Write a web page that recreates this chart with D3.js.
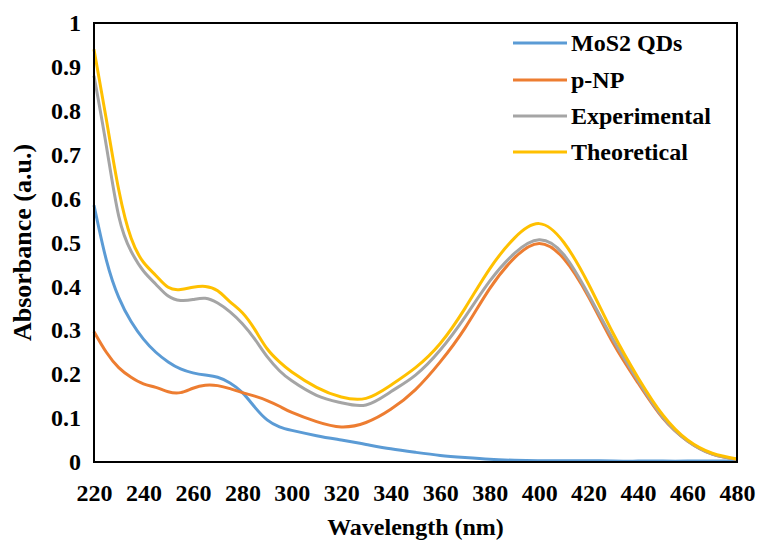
<!DOCTYPE html>
<html>
<head>
<meta charset="utf-8">
<script src="https://cdn.jsdelivr.net/npm/d3@7"></script>
<style>
  html, body { margin: 0; padding: 0; background: #fff; }
  svg { display: block; }
</style>
</head>
<body>
<svg id="chart" width="762" height="546"></svg>
<script>
// Wavelength grid (nm)
const wavelengths = [220,225,230,235,240,245,250,255,260,265,270,275,280,285,290,295,300,310,320,330,340,350,360,370,380,390,400,410,420,430,440,450,460,470,480];

// Absorbance spectra (a.u.)
const mos2QDs = [0.585,0.46,0.375,0.32,0.28,0.25,0.228,0.212,0.203,0.198,0.193,0.18,0.158,0.125,0.096,0.08,0.072,0.06,0.05,0.04,0.03,0.022,0.015,0.01,0.006,0.004,0.003,0.003,0.003,0.002,0.002,0.002,0.002,0.002,0.002];
const pNP = [0.297,0.25,0.215,0.193,0.178,0.17,0.16,0.158,0.168,0.175,0.174,0.167,0.158,0.15,0.14,0.127,0.113,0.092,0.08,0.09,0.12,0.165,0.228,0.305,0.395,0.465,0.498,0.463,0.376,0.27,0.18,0.1,0.048,0.018,0.006];
const experimental = [0.88,0.72,0.56,0.48,0.435,0.405,0.378,0.368,0.37,0.373,0.362,0.342,0.315,0.28,0.24,0.208,0.185,0.152,0.135,0.13,0.16,0.198,0.255,0.33,0.412,0.475,0.506,0.472,0.381,0.278,0.185,0.102,0.048,0.018,0.006];
const theoretical = [0.94,0.78,0.62,0.51,0.455,0.425,0.398,0.393,0.398,0.4,0.39,0.365,0.34,0.302,0.258,0.228,0.205,0.17,0.148,0.145,0.175,0.215,0.27,0.35,0.44,0.51,0.543,0.5,0.405,0.292,0.192,0.107,0.05,0.02,0.007];

const seriesNames = ["MoS2 QDs", "p-NP", "Experimental", "Theoretical"];
const seriesValues = [mos2QDs, pNP, experimental, theoretical];
const seriesColors = ["#5B9BD5", "#ED7D31", "#A5A5A5", "#FFC000"];

const xTicks = [220,240,260,280,300,320,340,360,380,400,420,440,460,480];
const yTicks = [0,0.1,0.2,0.3,0.4,0.5,0.6,0.7,0.8,0.9,1];

const FONT = "'Liberation Serif', 'Times New Roman', Times, serif";
const plot = { left: 94, top: 23, right: 737, bottom: 462 };

const svg = d3.select("#chart");

const x = d3.scaleLinear().domain([220, 480]).range([plot.left, plot.right]);
const y = d3.scaleLinear().domain([0, 1]).range([plot.bottom, plot.top]);

// Axes (labels only, no tick marks)
const xAxis = svg.append("g")
  .attr("transform", `translate(0,${plot.bottom})`)
  .call(d3.axisBottom(x).tickValues(xTicks).tickSize(0).tickPadding(22).tickFormat(d3.format("d")));
xAxis.select(".domain").remove();
xAxis.attr("font-family", FONT).attr("font-size", 24).attr("font-weight", "bold");
xAxis.selectAll("text").attr("fill", "#000");

const yAxis = svg.append("g")
  .attr("transform", `translate(${plot.left},0)`)
  .call(d3.axisLeft(y).tickValues(yTicks).tickSize(0).tickPadding(13).tickFormat(d => d === 0 || d === 1 ? String(d) : d3.format(".1f")(d)));
yAxis.select(".domain").remove();
yAxis.attr("font-family", FONT).attr("font-size", 24).attr("font-weight", "bold");
yAxis.selectAll("text").attr("fill", "#000");

// Spectra
const line = d3.line()
  .x((d, i) => x(wavelengths[i]))
  .y(d => y(d))
  .curve(d3.curveNatural);

svg.append("g").selectAll("path")
  .data(seriesValues)
  .join("path")
  .attr("d", line)
  .attr("fill", "none")
  .attr("stroke", (d, i) => seriesColors[i])
  .attr("stroke-width", 3)
  .attr("stroke-linejoin", "round");

// Plot frame
svg.append("rect")
  .attr("x", plot.left).attr("y", plot.top)
  .attr("width", plot.right - plot.left).attr("height", plot.bottom - plot.top)
  .attr("fill", "none").attr("stroke", "#000").attr("stroke-width", 2);

// Legend
const legendY = [43, 80, 116, 152];
const legend = svg.append("g")
  .attr("font-family", FONT).attr("font-size", 24).attr("font-weight", "bold")
  .selectAll("g")
  .data(seriesNames)
  .join("g")
  .attr("transform", (d, i) => `translate(513,${legendY[i]})`);
legend.append("line")
  .attr("x1", 0).attr("x2", 54).attr("y1", 0).attr("y2", 0)
  .attr("stroke", (d, i) => seriesColors[i]).attr("stroke-width", 3);
legend.append("text")
  .attr("x", 58).attr("y", 0).attr("dy", "0.35em")
  .attr("fill", "#000")
  .text(d => d);

// Axis titles
const titles = svg.append("g")
  .attr("font-family", FONT).attr("font-weight", "bold").attr("fill", "#000");
titles.append("text")
  .attr("x", (plot.left + plot.right) / 2).attr("y", 535)
  .attr("text-anchor", "middle")
  .attr("font-size", 24)
  .text("Wavelength (nm)");
titles.append("text")
  .attr("transform", `translate(31,${(plot.top + plot.bottom) / 2}) rotate(-90)`)
  .attr("text-anchor", "middle")
  .attr("font-size", 26)
  .text("Absorbance (a.u.)");
</script>
</body>
</html>
